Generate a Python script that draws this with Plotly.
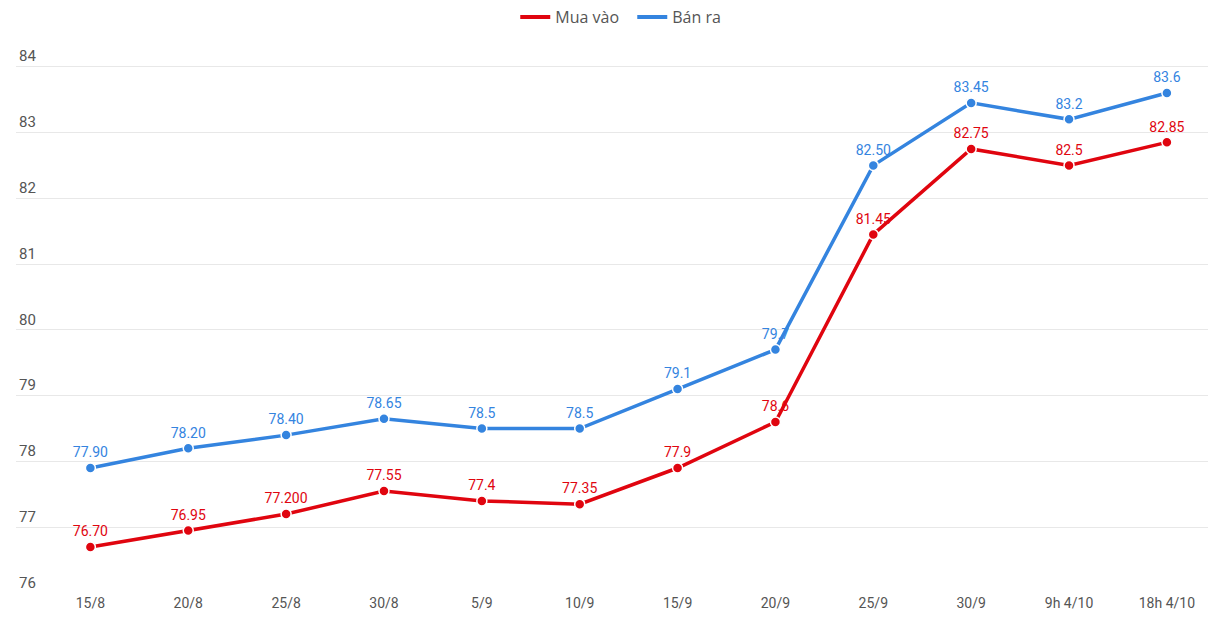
import plotly.graph_objects as go

# ── data ─────────────────────────────────────────────────────────────
dates = ["15/8", "20/8", "25/8", "30/8", "5/9", "10/9", "15/9", "20/9",
         "25/9", "30/9", "9h 4/10", "18h 4/10"]
buy = [76.70, 76.95, 77.20, 77.55, 77.4, 77.35, 77.9, 78.6, 81.45, 82.75, 82.5, 82.85]
sell = [77.90, 78.20, 78.40, 78.65, 78.5, 78.5, 79.1, 79.7, 82.50, 83.45, 83.2, 83.6]
buy_labels = ["76.70", "76.95", "77.200", "77.55", "77.4", "77.35", "77.9", "78.6",
              "81.45", "82.75", "82.5", "82.85"]
sell_labels = ["77.90", "78.20", "78.40", "78.65", "78.5", "78.5", "79.1", "79.7",
               "82.50", "83.45", "83.2", "83.6"]

RED = "#E0050F"
BLUE = "#3484DF"
GRID = "#E8E8E8"
TEXT = "#555555"

fig = go.Figure()

for name, ys, labels, color in [("Mua vào", buy, buy_labels, RED),
                                ("Bán ra", sell, sell_labels, BLUE)]:
    fig.add_trace(go.Scatter(
        x=dates, y=ys, name=name, showlegend=False,
        mode="lines+markers+text",
        line=dict(color=color, width=3.5),
        marker=dict(color=color, size=10, line=dict(color="white", width=1.5)),
        text=labels, textposition="top center",
        textfont=dict(color=color, size=14, family="Roboto"),
        cliponaxis=False,
    ))
    # legend entry: plain line swatch
    fig.add_trace(go.Scatter(
        x=[None], y=[None], name=name, mode="lines",
        line=dict(color=color, width=4),
    ))

fig.update_layout(
    width=1208, height=638,
    paper_bgcolor="white", plot_bgcolor="white",
    font=dict(family="Roboto", color=TEXT, size=14),
    margin=dict(l=16, r=0, t=45, b=45),
    legend=dict(orientation="h", x=0.517, xanchor="center", y=1.0, yanchor="top",
                yref="container", entrywidth=72, entrywidthmode="pixels",
                font=dict(size=16, family="Open Sans", color=TEXT)),
    xaxis=dict(
        type="category", range=[-0.76, 11.42],
        showgrid=False, showline=False, zeroline=False,
        ticks="", tickfont=dict(size=14, color=TEXT),
    ),
    yaxis=dict(
        range=[76, 84.33], dtick=1, tick0=76,
        gridcolor=GRID, gridwidth=1, zeroline=False, showline=False,
        ticklabelposition="inside top", tickfont=dict(size=15, color=TEXT),
        ticks="",
    ),
)

# drop the default 8px page margin so the figure fills the window exactly
fig.write_html("out.html", config={"displayModeBar": False},
               post_script="document.body.style.margin='0';")
